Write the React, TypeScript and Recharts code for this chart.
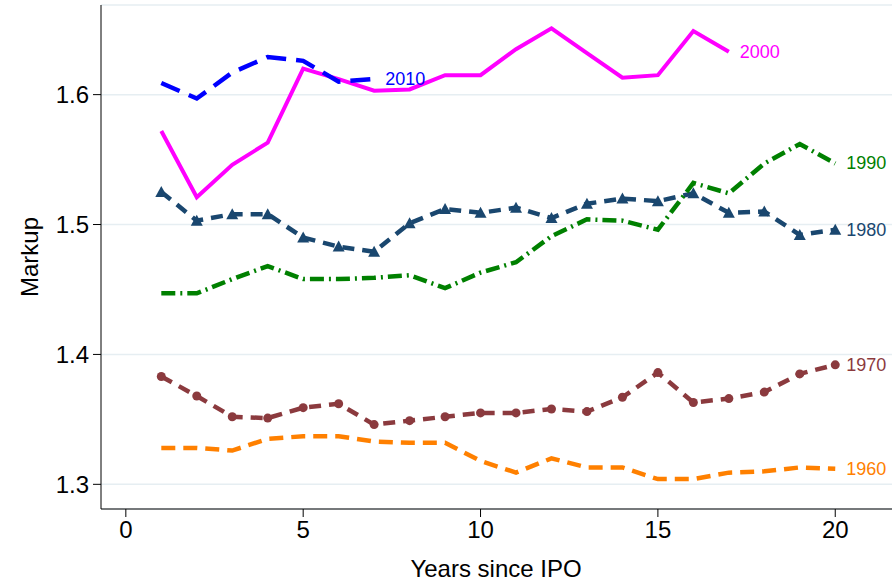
import React from "react";
import { LineChart, Line, XAxis, YAxis, CartesianGrid } from "recharts";

const years = [1,2,3,4,5,6,7,8,9,10,11,12,13,14,15,16,17,18,19,20];
const s2010 = [1.609,1.597,1.617,1.629,1.626,1.610,1.612];
const s2000 = [1.572,1.521,1.546,1.563,1.620,1.612,1.603,1.604,1.615,1.615,1.635,1.651,1.632,1.613,1.615,1.649,1.633];
const s1990 = [1.447,1.447,1.458,1.468,1.458,1.458,1.459,1.461,1.451,1.463,1.471,1.491,1.504,1.503,1.496,1.532,1.524,1.547,1.562,1.547];
const s1980 = [1.525,1.503,1.508,1.508,1.490,1.483,1.479,1.501,1.512,1.509,1.513,1.505,1.516,1.520,1.518,1.524,1.509,1.510,1.492,1.496];
const s1970 = [1.383,1.368,1.352,1.351,1.359,1.362,1.346,1.349,1.352,1.355,1.355,1.358,1.356,1.367,1.386,1.363,1.366,1.371,1.385,1.392];
const s1960 = [1.328,1.328,1.326,1.335,1.337,1.337,1.333,1.332,1.332,1.318,1.309,1.320,1.313,1.313,1.304,1.304,1.309,1.310,1.313,1.312];
const xTicks = [0,5,10,15,20];
const yTicks = [1.3,1.4,1.5,1.6];

const FONT = "Liberation Sans, Arial";

const data = years.map((x, i) => ({
  x,
  s2010: s2010[i], s2000: s2000[i], s1990: s1990[i],
  s1980: s1980[i], s1970: s1970[i], s1960: s1960[i],
}));

const endLabel = (name: string, color: string, len: number) => (p: any) => {
  if (p.index !== len - 1) return null;
  return <text x={p.x + 11} y={p.y + 6} fill={color} fontSize={18} fontFamily={FONT}>{name}</text>;
};

const Tri = (color: string) => (p: any) => {
  const { cx, cy } = p;
  if (cx == null || cy == null) return null;
  return <polygon key={p.index} points={`${cx},${cy - 6} ${cx - 6},${cy + 5} ${cx + 6},${cy + 5}`} fill={color} />;
};

export default function App() {
  return (
    <div style={{ position: "fixed", left: 0, top: 0, width: 892, height: 582, background: "#fff" }}>
      <LineChart width={892} height={582} data={data} margin={{ top: 5, right: 0, bottom: 0, left: 0 }}>
        <CartesianGrid vertical={false} stroke="#e6eef2" strokeWidth={1.5} />
        <XAxis dataKey="x" type="number" domain={[-0.7, 21.6]} ticks={xTicks} allowDataOverflow
          height={73} tick={{ fontSize: 24, fill: "#000", fontFamily: FONT }} tickMargin={4}
          tickSize={8} stroke="#000"
          label={{ content: () => <text x={496} y={577} textAnchor="middle" fontSize={24} fill="#000" fontFamily={FONT}>Years since IPO</text> } as any} />
        <YAxis type="number" domain={[1.281, 1.669]} ticks={yTicks} allowDataOverflow width={101}
          tick={{ fontSize: 24, fill: "#000", fontFamily: FONT }} tickMargin={4}
          tickSize={8} stroke="#000" tickFormatter={(v: number) => v.toFixed(1)}
          label={{ content: () => <text transform="translate(38,257) rotate(-90)" textAnchor="middle" fontSize={24} fill="#000" fontFamily={FONT}>Markup</text> } as any} />
        <Line dataKey="s1960" stroke="#ff8000" strokeWidth={4.5} strokeDasharray="14 8" dot={false} isAnimationActive={false} label={endLabel("1960", "#ff8000", 20)} />
        <Line dataKey="s1970" stroke="#8b3a3e" strokeWidth={4.5} strokeDasharray="12 8" dot={{ r: 4.5, fill: "#8b3a3e", stroke: "none" }} isAnimationActive={false} label={endLabel("1970", "#8b3a3e", 20)} />
        <Line dataKey="s1980" stroke="#1a476f" strokeWidth={4.5} strokeDasharray="12 8" dot={Tri("#1a476f")} isAnimationActive={false} label={endLabel("1980", "#1a476f", 20)} />
        <Line dataKey="s1990" stroke="#008000" strokeWidth={4.5} strokeDasharray="14 5 2 5" dot={false} isAnimationActive={false} label={endLabel("1990", "#008000", 20)} />
        <Line dataKey="s2000" stroke="#ff00ff" strokeWidth={4} dot={false} isAnimationActive={false} label={endLabel("2000", "#ff00ff", 17)} />
        <Line dataKey="s2010" stroke="#0000ff" strokeWidth={4.5} strokeDasharray="20 10" dot={false} isAnimationActive={false} label={endLabel("2010", "#0000ff", 7)} />
      </LineChart>
    </div>
  );
}
